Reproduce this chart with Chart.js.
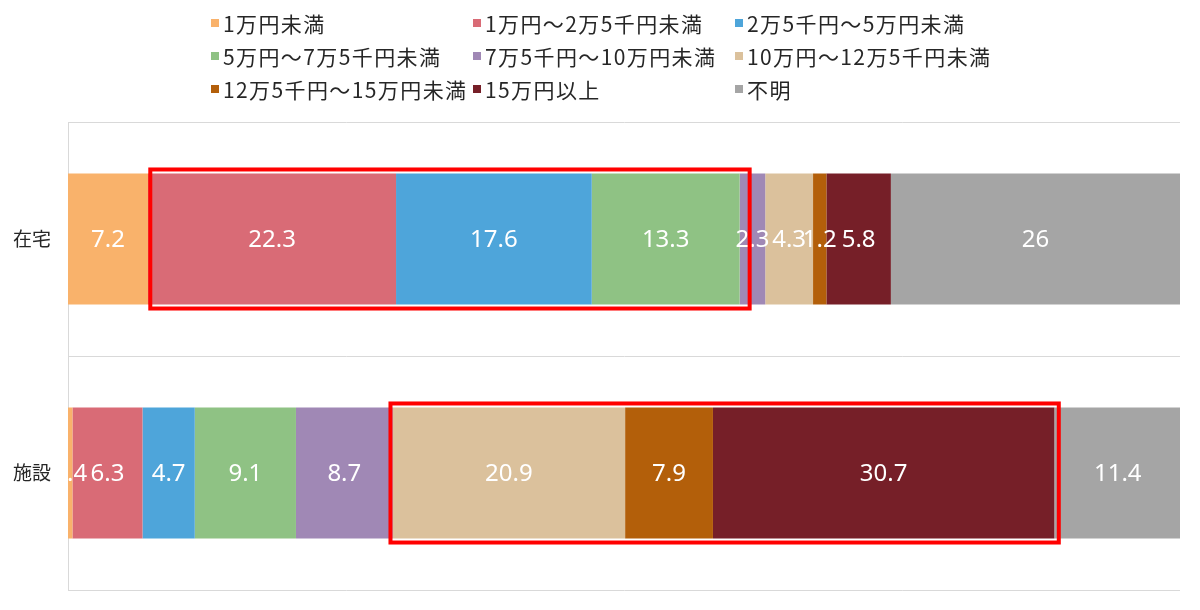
<!DOCTYPE html>
<html lang="ja">
<head>
<meta charset="utf-8">
<script src="https://cdn.jsdelivr.net/npm/chart.js@4.4.1/dist/chart.umd.min.js"></script>
<style>
  html, body { margin: 0; padding: 0; background: #fff; }
  #wrap { position: relative; width: 1200px; height: 610px; }
  #chart { display: block; }
  #legend {
    position: absolute; left: 211px; top: 6px;
    display: grid; grid-template-columns: 262px 262px 262px;
    grid-auto-rows: 33px;
    font-family: "Noto Sans CJK JP", "Noto Sans", sans-serif;
    font-size: 21px; letter-spacing: 1.4px; color: #262626;
  }
  #legend .item { display: flex; align-items: center; white-space: nowrap; }
  #legend .box { width: 8px; height: 8px; margin-right: 4px; flex: none; }
</style>
</head>
<body>
<div id="wrap">
  <canvas id="chart" width="1200" height="610"></canvas>
  <div id="legend"></div>
</div>
<script>
// カテゴリ
const categories = ['在宅', '施設'];

// 収入区分
const seriesNames = [
  '1万円未満',
  '1万円～2万5千円未満',
  '2万5千円～5万円未満',
  '5万円～7万5千円未満',
  '7万5千円～10万円未満',
  '10万円～12万5千円未満',
  '12万5千円～15万円未満',
  '15万円以上',
  '不明'
];

// 割合（%）: 在宅, 施設
const zaitaku = [7.2, 22.3, 17.6, 13.3, 2.3, 4.3, 1.2, 5.8, 26];
const shisetsu = [0.4, 6.3, 4.7, 9.1, 8.7, 20.9, 7.9, 30.7, 11.4];

const seriesColors = [
  '#F9B26B', '#D96B76', '#4EA5DA', '#8FC284', '#A088B5',
  '#DBC19C', '#B35F0A', '#761F28', '#A5A5A5'
];

// 強調枠（値の範囲）: [カテゴリ番号, 開始, 終了]
const highlightBoxes = [
  [0, 7.4, 61.3],
  [1, 29.0, 89.1]
];

const datasets = seriesNames.map(function(name, i) {
  return {
    label: name,
    data: [zaitaku[i], shisetsu[i]],
    backgroundColor: seriesColors[i],
    borderWidth: 0
  };
});

// バーの中に値を描く
const valueLabels = {
  id: 'valueLabels',
  afterDatasetsDraw(chart) {
    const ctx = chart.ctx;
    const area = chart.chartArea;
    ctx.save();
    ctx.beginPath();
    ctx.rect(area.left, area.top, area.right - area.left, area.bottom - area.top);
    ctx.clip();
    ctx.fillStyle = '#ffffff';
    ctx.font = '24px "Noto Sans", "Open Sans", sans-serif';
    ctx.textAlign = 'center';
    ctx.textBaseline = 'middle';
    chart.data.datasets.forEach(function(ds, i) {
      const meta = chart.getDatasetMeta(i);
      meta.data.forEach(function(bar, j) {
        const x = (bar.x + bar.base) / 2;
        ctx.fillText(String(ds.data[j]), x, bar.y + 1);
      });
    });
    ctx.restore();
  }
};

// 赤い枠
const highlight = {
  id: 'highlight',
  afterDraw(chart) {
    const ctx = chart.ctx;
    const xs = chart.scales.x;
    const meta = chart.getDatasetMeta(0);
    ctx.save();
    ctx.strokeStyle = '#FF0000';
    ctx.lineWidth = 4;
    highlightBoxes.forEach(function(b) {
      const bar = meta.data[b[0]];
      const h = bar.height;
      const x1 = xs.getPixelForValue(b[1]);
      const x2 = xs.getPixelForValue(b[2]);
      const y1 = bar.y - h / 2 - 4;
      const y2 = bar.y + h / 2 + 4;
      ctx.strokeRect(x1, y1, x2 - x1, y2 - y1);
    });
    ctx.restore();
  }
};

const chart = new Chart(document.getElementById('chart'), {
  type: 'bar',
  data: { labels: categories, datasets: datasets },
  options: {
    indexAxis: 'y',
    responsive: false,
    animation: false,
    layout: { padding: { top: 122, right: 20, bottom: 20, left: 0 } },
    datasets: { bar: { barPercentage: 0.56, categoryPercentage: 1 } },
    scales: {
      x: { stacked: true, min: 0, max: 100, display: false },
      y: {
        stacked: true,
        afterFit: function(scale) {
          scale.width = 68;
          scale.paddingTop = 0;
          scale.paddingBottom = 0;
        },
        grid: { color: '#D9D9D9', drawTicks: false, offset: true },
        border: { color: '#D9D9D9' },
        ticks: {
          padding: 17,
          color: '#262626',
          font: { family: '"Noto Sans CJK JP", sans-serif', size: 19 }
        }
      }
    },
    plugins: {
      legend: { display: false },
      tooltip: { enabled: false }
    }
  },
  plugins: [valueLabels, highlight]
});

// 凡例（3列）
const legendEl = document.getElementById('legend');
seriesNames.forEach(function(name, i) {
  const item = document.createElement('div');
  item.className = 'item';
  const box = document.createElement('span');
  box.className = 'box';
  box.style.background = seriesColors[i];
  const txt = document.createElement('span');
  txt.textContent = name;
  item.appendChild(box);
  item.appendChild(txt);
  legendEl.appendChild(item);
});
</script>
</body>
</html>
